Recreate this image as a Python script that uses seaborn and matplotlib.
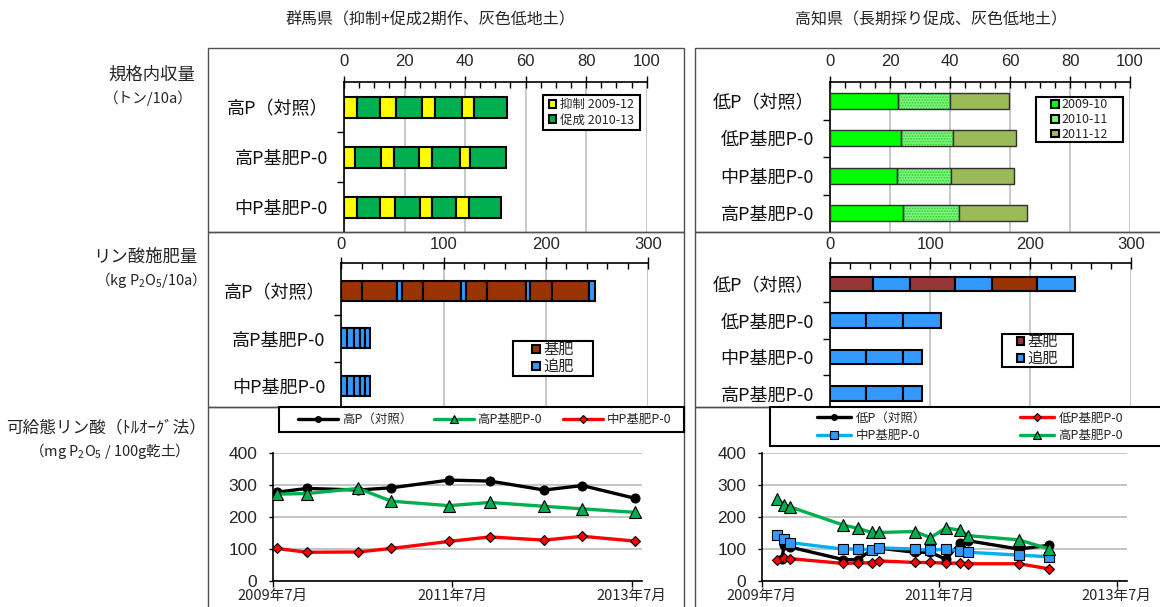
import numpy as np
import pandas as pd
import matplotlib
matplotlib.use("Agg")
import matplotlib.pyplot as plt
from matplotlib.patches import Patch, Rectangle
from matplotlib.lines import Line2D
import seaborn as sns

sns.set_theme(style="white")
plt.rcParams["font.family"] = ["Noto Sans CJK JP", "DejaVu Sans"]
plt.rcParams["mathtext.default"] = "regular"
plt.rcParams["axes.unicode_minus"] = False
plt.rcParams["hatch.linewidth"] = 0.8

# ---------------------------------------------------------------- data
gunma_title = "群馬県（抑制+促成2期作、灰色低地土）"
kochi_title = "高知県（長期採り促成、灰色低地土）"

gunma_plots = ["高P（対照）", "高P基肥P-0", "中P基肥P-0"]
kochi_plots = ["低P（対照）", "低P基肥P-0", "中P基肥P-0", "高P基肥P-0"]

# marketable yield (t/10a); Gunma: 抑制 crops 2009-2012, 促成 crops 2010-2013
gunma_yokusei_high = [4.2, 5.1, 4.2, 3.9]
gunma_sokusei_high = [7.8, 8.7, 9.1, 11.0]
gunma_yokusei_highp0 = [3.7, 4.4, 4.2, 3.3]
gunma_sokusei_highp0 = [8.5, 8.3, 9.3, 11.8]
gunma_yokusei_midp0 = [4.2, 4.8, 4.0, 4.2]
gunma_sokusei_midp0 = [7.8, 8.3, 7.9, 10.7]

# Kochi: one long-term crop per season
kochi_yield_2009 = [22.8, 23.8, 22.4, 24.2]
kochi_yield_2010 = [17.3, 17.3, 18.0, 18.9]
kochi_yield_2011 = [19.6, 21.0, 20.8, 22.4]
kochi_seasons = ["2009-10", "2010-11", "2011-12"]

# phosphate applied (kg P2O5/10a)
gunma_base_yokusei = [19.9, 20.2, 20.5, 21.5]
gunma_base_sokusei = [34.9, 37.5, 38.1, 36.2]
gunma_top_ctrl = [4.6, 4.6, 4.6, 5.9]
gunma_top_highp0 = [5.5, 7.0, 6.0, 4.5, 5.0]
gunma_top_midp0 = [5.5, 7.0, 6.0, 4.5, 5.0]

kochi_base_ctrl = [43.0, 45.0, 45.0]
kochi_top_ctrl = [37.0, 37.0, 37.0]
kochi_top_lowp0 = [35.6, 37.6, 37.9]
kochi_top_midp0 = [35.6, 37.6, 19.0]
kochi_top_highp0 = [35.6, 37.6, 19.0]

# available phosphate (Truog, mg P2O5/100g dry soil)
gunma_dates = ["2009-07-17", "2009-11-18", "2010-06-14", "2010-10-27", "2011-06-19",
               "2011-12-02", "2012-07-10", "2012-12-12", "2013-07-15"]
gunma_soil_high = [278, 290, 285, 292, 316, 313, 285, 299, 259]
gunma_soil_highp0 = [272, 274, 290, 250, 236, 246, 234, 226, 215]
gunma_soil_midp0 = [102, 90, 91, 102, 124, 138, 128, 140, 125]

kochi_dates = ["2009-09-03", "2009-10-02", "2009-10-27", "2010-06-02", "2010-08-01",
               "2010-09-27", "2010-10-26", "2011-03-24", "2011-05-26", "2011-07-29",
               "2011-09-27", "2011-10-29", "2012-05-24", "2012-09-27"]
kochi_ctrl_dates = ["2009-09-21", "2009-10-02", "2009-10-27", "2010-06-02", "2010-08-01",
                    "2010-09-27", "2010-10-26", "2011-03-24", "2011-05-26", "2011-07-29",
                    "2011-09-27", "2011-10-29", "2012-05-24", "2012-09-27"]
kochi_soil_low = [68, 112, 106, 67, 67, 98, 103, 90, 90, 68, 120, 126, 100, 112]
kochi_soil_lowp0 = [66, 71, 70, 55, 57, 57, 63, 58, 58, 56, 56, 54, 54, 38]
kochi_soil_midp0 = [144, 131, 120, 100, 100, 98, 104, 100, 96, 100, 94, 90, 81, 76]
kochi_soil_highp0 = [256, 238, 232, 175, 165, 152, 152, 155, 136, 166, 159, 142, 129, 100]

date_ticks = ["2009-07-01", "2011-07-01", "2013-07-01"]
date_labels = ["2009年7月", "2011年7月", "2013年7月"]

# ---------------------------------------------------------------- colours
YELLOW, GREEN = "#FFFF00", "#00B050"
LIME, LIGHT, OLIVE = "#00FF00", "#7CF57C", "#9BBB59"
BROWN, BROWN2, BLUE = "#953735", "#993300", "#3399FF"
CYAN = "#00B0F0"

W, H = 1160, 607
fig = plt.figure(figsize=(W / 100, H / 100), dpi=100)
NUM = "Liberation Sans"


def px_axes(l, t, r, b):
    return fig.add_axes([l / W, 1 - b / H, (r - l) / W, (b - t) / H])


def fx(x):
    return x / W


def fy(y):
    return 1 - y / H


def stack(ax, y, values, colors, height, ec="black", lw=1.5, hatches=None):
    left = 0.0
    for i, (v, c) in enumerate(zip(values, colors)):
        h = hatches[i] if hatches else None
        if h:
            ax.barh(y, v, left=left, height=height, color=c, edgecolor="#2FD02F",
                    linewidth=0, hatch=h, zorder=2)
            ax.barh(y, v, left=left, height=height, facecolor="none", edgecolor=ec,
                    linewidth=lw, zorder=3)
        else:
            ax.barh(y, v, left=left, height=height, color=c, edgecolor=ec,
                    linewidth=lw, zorder=3)
        left += v


def style_bar_axis(ax, labels, xmax, major, minor, ylim, pad):
    ax.set_facecolor("none")
    ax.set_xlim(0, xmax)
    ax.set_ylim(*ylim)
    ax.xaxis.tick_top()
    ax.set_xticks(np.arange(0, xmax + 1, major))
    ax.set_xticks(np.arange(0, xmax + 1, minor), minor=True)
    ax.tick_params(axis="x", which="major", direction="inout", length=8, width=1,
                   color="black", labelsize=12, pad=pad, top=True, bottom=False,
                   labeltop=True, labelbottom=False)
    ax.tick_params(axis="x", which="minor", direction="in", length=4, width=1,
                   color="black", top=True, bottom=False)
    for lbl in ax.get_xticklabels():
        lbl.set_fontfamily(NUM)
    ax.set_yticks(range(len(labels)))
    ax.set_yticklabels(labels)
    ax.set_yticks(np.arange(0.5, len(labels) - 0.5), minor=True)
    ax.tick_params(axis="y", which="major", length=0, labelsize=13, pad=11.5,
                   labelcolor="#111111")
    ax.tick_params(axis="y", which="minor", direction="out", length=5, width=1,
                   color="black", left=True)
    for s in ["right", "bottom"]:
        ax.spines[s].set_visible(False)
    for s in ["top", "left"]:
        ax.spines[s].set_color("black")
        ax.spines[s].set_linewidth(1.2)
    ax.grid(axis="x", which="major", color="#BFBFBF", lw=1.2)
    ax.grid(axis="y", visible=False)
    ax.set_axisbelow(True)


def style_line_axis(ax):
    ax.set_facecolor("none")
    ax.set_ylim(0, 400)
    ax.set_yticks([0, 100, 200, 300, 400])
    ax.set_xlim(pd.Timestamp("2009-07-01"), pd.Timestamp("2013-08-11"))
    ax.set_xticks(pd.to_datetime(date_ticks))
    ax.set_xticklabels(date_labels)
    ax.set_xlabel("")
    ax.set_ylabel("")
    ax.grid(axis="y", color="#BFBFBF", lw=1.3)
    ax.grid(axis="x", visible=False)
    ax.set_axisbelow(True)
    for s in ["right", "top"]:
        ax.spines[s].set_visible(False)
    for s in ["left", "bottom"]:
        ax.spines[s].set_color("black")
        ax.spines[s].set_linewidth(1.2)
    ax.tick_params(axis="y", direction="out", length=3, width=1, color="black",
                   labelsize=12.5, pad=8, left=True)
    ax.tick_params(axis="x", direction="out", length=4, width=1, color="black",
                   labelsize=10.5, pad=1.5, bottom=True)
    for lbl in ax.get_yticklabels():
        lbl.set_fontfamily(NUM)


def box(l, t, r, b, lw=1.5, ec="black", fc="white"):
    fig.add_artist(Rectangle((fx(l), fy(b)), (r - l) / W, (b - t) / H,
                             transform=fig.transFigure, facecolor=fc, edgecolor=ec,
                             linewidth=lw, zorder=2))


def square(c):
    return Patch(facecolor=c, edgecolor="black", linewidth=1.5)


# ---------------------------------------------------------------- panel frames
for (l, r) in [(208, 684), (695, 1172)]:
    box(l, 48, r, 232, lw=1.0, ec="#505050", fc="none")
    box(l, 232, r, 407, lw=1.0, ec="#505050", fc="none")
    box(l, 407, r, 615, lw=1.0, ec="#505050", fc="none")

fig.text(fx(430), fy(20), gunma_title, ha="center", va="center", fontsize=11.5)
fig.text(fx(931), fy(20), kochi_title, ha="center", va="center", fontsize=11.5)

fig.text(fx(152), fy(75), "規格内収量", ha="center", va="center", fontsize=12.5)
fig.text(fx(148), fy(98), "（トン/10a）", ha="center", va="center", fontsize=10.5)
fig.text(fx(145), fy(257), "リン酸施肥量", ha="center", va="center", fontsize=12.5)
fig.text(fx(147), fy(280), "（kg P$_2$O$_5$/10a）", ha="center", va="center", fontsize=10.5)
fig.text(fx(106), fy(428), "可給態リン酸（ﾄﾙｵｰｸﾞ法）", ha="center", va="center", fontsize=12)
fig.text(fx(105), fy(451), "（mg P$_2$O$_5$ / 100g乾土）", ha="center", va="center",
         fontsize=10.5)

# ---------------------------------------------------------------- yield, Gunma
ax = px_axes(344, 82, 646.7, 232)
gunma_yield_rows = [(gunma_yokusei_high, gunma_sokusei_high),
                    (gunma_yokusei_highp0, gunma_sokusei_highp0),
                    (gunma_yokusei_midp0, gunma_sokusei_midp0)]
for i, (yk, sk) in enumerate(gunma_yield_rows):
    vals, cols = [], []
    for a, b in zip(yk, sk):
        vals += [a, b]
        cols += [YELLOW, GREEN]
    stack(ax, i, vals, cols, 0.42)
style_bar_axis(ax, gunma_plots, 100, 20, 5, (2.5, -0.5), 5.5)
box(542.7, 95, 640, 130)
fig.legend([square(YELLOW), square(GREEN)], ["抑制 2009-12", "促成 2010-13"],
           loc="center", bbox_to_anchor=(fx(591.3), fy(112.5)), frameon=False,
           fontsize=9, handlelength=0.6, handleheight=0.6, handletextpad=0.3,
           labelspacing=0.2, borderpad=0)

# ---------------------------------------------------------------- yield, Kochi
ax = px_axes(830, 82, 1130, 232)
for i in range(len(kochi_plots)):
    vals = [kochi_yield_2009[i], kochi_yield_2010[i], kochi_yield_2011[i]]
    stack(ax, i, vals, [LIME, LIGHT, OLIVE], 0.42, ec="#303030", lw=1.0,
          hatches=[None, "......", None])
style_bar_axis(ax, kochi_plots, 100, 20, 5, (3.5, -0.5), 5.5)
box(1035.7, 97.3, 1123.3, 141.7)
fig.legend([square(LIME), square(LIGHT), square(OLIVE)], kochi_seasons,
           loc="center", bbox_to_anchor=(fx(1079.5), fy(119.5)), frameon=False,
           fontsize=9, handlelength=0.6, handleheight=0.6, handletextpad=0.2,
           labelspacing=0.15, borderpad=0)

# ---------------------------------------------------------------- fertiliser, Gunma
ax = px_axes(341.3, 263, 648, 407)
vals, cols = [], []
for a, b, c in zip(gunma_base_yokusei, gunma_base_sokusei, gunma_top_ctrl):
    vals += [a, b, c]
    cols += [BROWN2, BROWN2, BLUE]
stack(ax, 0, vals, cols, 0.42)
stack(ax, 1, gunma_top_highp0, [BLUE] * len(gunma_top_highp0), 0.42)
stack(ax, 2, gunma_top_midp0, [BLUE] * len(gunma_top_midp0), 0.42)
style_bar_axis(ax, gunma_plots, 300, 100, 20, (2.45, -0.59), 4)
box(512.7, 341, 593.3, 375.7)
fig.legend([square(BROWN2), square(BLUE)], ["基肥", "追肥"],
           loc="center", bbox_to_anchor=(fx(553), fy(358.3)), frameon=False,
           fontsize=11, handlelength=0.5, handleheight=0.5, handletextpad=0.2,
           labelspacing=0.0, borderpad=0)

# ---------------------------------------------------------------- fertiliser, Kochi
ax = px_axes(830, 263, 1130.7, 407)
vals, cols = [], []
for k, (a, b) in enumerate(zip(kochi_base_ctrl, kochi_top_ctrl)):
    vals += [a, b]
    cols += [BROWN2 if k == 2 else BROWN, BLUE]
stack(ax, 0, vals, cols, 0.41)
stack(ax, 1, kochi_top_lowp0, [BLUE] * 3, 0.41)
stack(ax, 2, kochi_top_midp0, [BLUE] * 3, 0.41)
stack(ax, 3, kochi_top_highp0, [BLUE] * 3, 0.41)
style_bar_axis(ax, kochi_plots, 300, 100, 20, (3.37, -0.575), 4)
box(1001.7, 334, 1072.7, 366.7)
fig.legend([square(BROWN), square(BLUE)], ["基肥", "追肥"],
           loc="center", bbox_to_anchor=(fx(1037.2), fy(350.3)), frameon=False,
           fontsize=11, handlelength=0.5, handleheight=0.5, handletextpad=0.2,
           labelspacing=0.0, borderpad=0)

# ---------------------------------------------------------------- soil P, Gunma
LW = 2.4
ax = px_axes(272.7, 453.3, 641.7, 581)
gd = pd.to_datetime(gunma_dates)
sns.lineplot(x=gd, y=gunma_soil_high, ax=ax, color="black", lw=LW, marker="o", ms=6.5,
             mfc="black", mec="black", errorbar=None, zorder=3)
sns.lineplot(x=gd, y=gunma_soil_highp0, ax=ax, color=GREEN, lw=LW, marker="^", ms=8,
             mfc=GREEN, mec="black", mew=0.8, errorbar=None, zorder=4)
sns.lineplot(x=gd, y=gunma_soil_midp0, ax=ax, color="#FF0000", lw=LW, marker="D", ms=5.5,
             mfc="#FF0000", mec="black", mew=0.8, errorbar=None, zorder=5)
style_line_axis(ax)
box(279, 407, 684, 432)
fig.legend([Line2D([], [], color="black", lw=LW, marker="o", ms=4, mfc="black", mec="black"),
            Line2D([], [], color=GREEN, lw=LW, marker="^", ms=6, mfc=GREEN, mec="black", mew=0.8),
            Line2D([], [], color="#FF0000", lw=LW, marker="D", ms=4.5, mfc="#FF0000", mec="black",
                   mew=0.8)],
           gunma_plots, loc="center", bbox_to_anchor=(fx(485), fy(419.5)), ncol=3,
           frameon=False, fontsize=9, handlelength=3.2, handletextpad=0.3,
           columnspacing=1.7, borderpad=0)

# ---------------------------------------------------------------- soil P, Kochi
ax = px_axes(761.7, 453.3, 1126.7, 581)
kd = pd.to_datetime(kochi_dates)
sns.lineplot(x=pd.to_datetime(kochi_ctrl_dates), y=kochi_soil_low, ax=ax, color="black",
             lw=LW, marker="o", ms=6.5, mfc="black", mec="black", errorbar=None, zorder=3)
sns.lineplot(x=kd, y=kochi_soil_lowp0, ax=ax, color="#FF0000", lw=LW, marker="D", ms=5.5,
             mfc="#FF0000", mec="black", mew=0.8, errorbar=None, zorder=4)
sns.lineplot(x=kd, y=kochi_soil_midp0, ax=ax, color=CYAN, lw=LW, marker="s", ms=7,
             mfc=BLUE, mec="black", mew=0.8, errorbar=None, zorder=5)
sns.lineplot(x=kd, y=kochi_soil_highp0, ax=ax, color=GREEN, lw=LW, marker="^", ms=8,
             mfc=GREEN, mec="black", mew=0.8, errorbar=None, zorder=6)
style_line_axis(ax)
box(770, 407, 1172, 446)
h_low = Line2D([], [], color="black", lw=LW, marker="o", ms=4, mfc="black", mec="black")
h_lowp0 = Line2D([], [], color="#FF0000", lw=LW, marker="D", ms=4.5, mfc="#FF0000",
                 mec="black", mew=0.8)
h_midp0 = Line2D([], [], color=CYAN, lw=LW, marker="s", ms=6, mfc=BLUE, mec="black",
                 mew=0.8)
h_highp0 = Line2D([], [], color=GREEN, lw=LW, marker="^", ms=6, mfc=GREEN, mec="black",
                  mew=0.8)
fig.legend([h_low, h_midp0, h_lowp0, h_highp0],
           [kochi_plots[0], kochi_plots[2], kochi_plots[1], kochi_plots[3]],
           loc="center", bbox_to_anchor=(fx(970), fy(427)), ncol=2, frameon=False,
           fontsize=9, handlelength=2.7, handletextpad=0.4, columnspacing=7.5,
           labelspacing=0.35, borderpad=0)

fig.savefig("out.png", dpi=100)
